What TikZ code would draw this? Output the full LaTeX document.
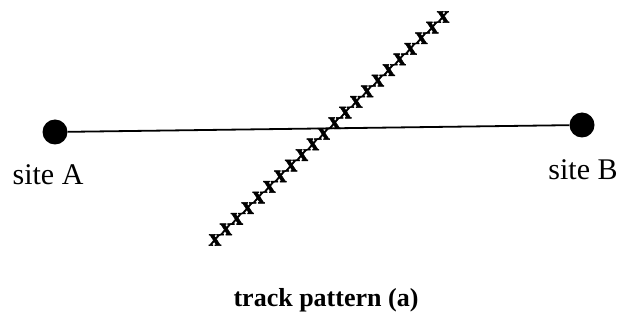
\documentclass[tikz,border=0pt]{standalone}
\usepackage{fontspec}
\setmainfont{Liberation Serif}
\newfontfamily\crossfont[FakeBold=2]{Liberation Serif Bold}
\usetikzlibrary{positioning, calc}

\begin{document}
\begin{tikzpicture}[x=1pt, y=1pt,
    site/.style={circle, fill=black, inner sep=0pt, minimum size=25pt},
    lab/.style={font=\fontsize{30}{33}\selectfont, inner sep=0pt},
    track/.style={font=\crossfont\fontsize{25}{26}\selectfont, inner sep=0pt},
    captext/.style={font=\bfseries\fontsize{26}{30}\selectfont, inner sep=0pt},
    link/.style={line width=1.8pt, black}
]
    \useasboundingbox (0,0) rectangle (621,332);
    \node[site] (siteA) at (55,200) {};
    \node[site] (siteB) at (582,207) {};
    \draw[link] (siteA) -- (siteB);
    \node[lab] (labA) at (48,157) {site A};
    \node[lab] (labB) at (583,162) {site B};
    % track of crosses
    \coordinate (t0) at (215,92);
    \coordinate (t1) at (443,315);
    \foreach \i in {0,...,21}
        \node[track] (x\i) at ($(t0)!\i/21!(t1)$) {x};
    \node[captext] (caption) at (326,32) {track pattern (a)};
\end{tikzpicture}
\end{document}
